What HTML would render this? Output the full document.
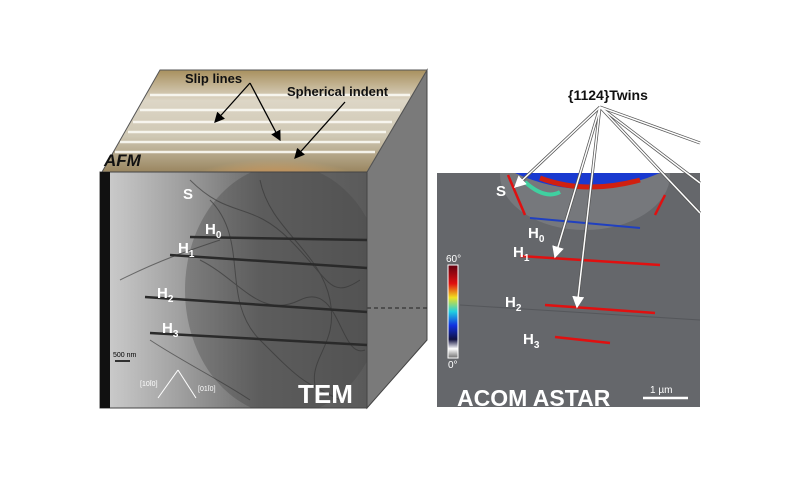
<!DOCTYPE html>
<html><head><meta charset="utf-8"><style>
html,body{margin:0;padding:0;background:#fff;}
svg{display:block;font-family:"Liberation Sans",sans-serif;}
</style></head><body>
<svg width="800" height="481" viewBox="0 0 800 481" xmlns="http://www.w3.org/2000/svg">
<defs>
<linearGradient id="top" x1="0" y1="0" x2="0" y2="1">
<stop offset="0" stop-color="#a8905e"/><stop offset="0.3" stop-color="#ddd6c6"/><stop offset="0.65" stop-color="#cfc8b4"/><stop offset="1" stop-color="#9a8660"/>
</linearGradient>
<radialGradient id="indent" cx="0.5" cy="1" r="0.7">
<stop offset="0" stop-color="#7a1408"/><stop offset="0.35" stop-color="#c4502a"/><stop offset="0.7" stop-color="#dc9a58" stop-opacity="0.6"/><stop offset="1" stop-color="#e0b070" stop-opacity="0"/>
</radialGradient>
<linearGradient id="tem" x1="0" y1="0" x2="1" y2="0">
<stop offset="0" stop-color="#cfcfcf"/><stop offset="0.3" stop-color="#a0a0a0"/><stop offset="0.6" stop-color="#6a6a6a"/><stop offset="1" stop-color="#5a5a5a"/>
</linearGradient>
<clipPath id="rp"><rect x="437" y="173" width="263" height="234"/></clipPath>
<clipPath id="fp"><rect x="100" y="172" width="267" height="236"/></clipPath>
<marker id="ah" markerWidth="8" markerHeight="8" refX="7" refY="4" orient="auto"><path d="M0,0 L8,4 L0,8 z" fill="#000"/></marker>
<marker id="aw" markerWidth="8" markerHeight="8" refX="7" refY="4" orient="auto"><path d="M0,0 L8,4 L0,8 z" fill="#fff"/></marker>
</defs>
<!-- side face -->
<polygon points="367,172 427,70 427,340 367,408" fill="#7a7a7a" stroke="#444"/>
<line x1="367" y1="308" x2="427" y2="308" stroke="#222" stroke-dasharray="4,3"/>
<!-- top face -->
<polygon points="102,172 160,70 427,70 367,172" fill="url(#top)"/>
<g stroke="#fbfaf4" stroke-width="2.5" opacity="0.9">
<line x1="150" y1="95" x2="410" y2="95"/><line x1="140" y1="110" x2="400" y2="110"/><line x1="133" y1="122" x2="392" y2="122"/><line x1="128" y1="132" x2="386" y2="132"/><line x1="120" y1="142" x2="380" y2="142"/><line x1="115" y1="152" x2="375" y2="152"/>
</g>
<ellipse cx="275" cy="172" rx="80" ry="32" fill="url(#indent)"/>
<polygon points="102,172 160,70 427,70 367,172" fill="none" stroke="#555"/>
<!-- front TEM -->
<rect x="100" y="172" width="267" height="236" fill="url(#tem)" stroke="#444"/>
<g clip-path="url(#fp)">
<ellipse cx="285" cy="290" rx="100" ry="125" fill="#444" opacity="0.35"/>
<g stroke="#333" stroke-width="1" fill="none" opacity="0.6">
<path d="M190,180 C230,220 250,200 290,240 S330,300 360,280"/>
<path d="M200,260 C240,280 260,320 300,300 S340,360 365,350"/>
<path d="M210,200 C250,240 220,300 260,340 S300,380 340,400"/>
<path d="M260,180 C270,230 320,250 330,300 S300,360 320,400"/>
<path d="M120,280 C160,260 190,250 220,240"/>
<path d="M150,340 C180,360 220,380 250,400"/>
</g>
</g>
<rect x="100" y="172" width="10" height="236" fill="#111"/>
<g stroke="#2a2a2a" stroke-width="2.5">
<line x1="190" y1="237" x2="367" y2="240"/><line x1="170" y1="255" x2="367" y2="268"/><line x1="145" y1="297" x2="367" y2="312"/><line x1="150" y1="333" x2="367" y2="345"/>
</g>
<g font-weight="bold" fill="#fff" font-size="15">
<text x="183" y="199">S</text>
<text x="205" y="234">H<tspan font-size="10" dy="4">0</tspan></text>
<text x="178" y="253">H<tspan font-size="10" dy="4">1</tspan></text>
<text x="157" y="298">H<tspan font-size="10" dy="4">2</tspan></text>
<text x="162" y="333">H<tspan font-size="10" dy="4">3</tspan></text>
<text x="298" y="403" font-size="26">TEM</text>
</g>
<text x="113" y="357" font-size="7" fill="#000">500 nm</text>
<line x1="115" y1="361" x2="130" y2="361" stroke="#000" stroke-width="1.5"/>
<g stroke="#fff" stroke-width="1"><line x1="178" y1="370" x2="158" y2="398"/><line x1="178" y1="370" x2="196" y2="398"/></g>
<text x="140" y="386" font-size="7" fill="#fff">[10Ī0]</text>
<text x="198" y="391" font-size="7" fill="#fff">[01Ī0]</text>
<text x="104" y="166" font-size="17" font-weight="bold" font-style="italic" fill="#111">AFM</text>
<g font-weight="bold" fill="#111" font-size="13">
<text x="185" y="83">Slip lines</text>
<text x="287" y="96">Spherical indent</text>
</g>
<g stroke="#000" stroke-width="1.3">
<line x1="250" y1="83" x2="215" y2="122" marker-end="url(#ah)"/>
<line x1="250" y1="83" x2="280" y2="140" marker-end="url(#ah)"/>
<line x1="345" y1="102" x2="295" y2="158" marker-end="url(#ah)"/>
</g>
<!-- right panel -->
<rect x="437" y="173" width="263" height="234" fill="#65676b"/>
<g clip-path="url(#rp)">
<ellipse cx="585" cy="175" rx="85" ry="55" fill="#76787c"/>
<path d="M515,173 Q585,205 660,173 z" fill="#1a3ad0"/>
<path d="M540,178 Q585,195 640,180" stroke="#d02010" stroke-width="5" fill="none"/>
<path d="M525,182 Q545,200 560,192" stroke="#40d0a0" stroke-width="4" fill="none"/>
<line x1="460" y1="305" x2="700" y2="320" stroke="#55575b" stroke-width="1"/>
</g>
<g stroke="#e01010" stroke-width="2.5">
<line x1="508" y1="175" x2="525" y2="215"/><line x1="520" y1="256" x2="660" y2="265"/>
<line x1="545" y1="305" x2="655" y2="313"/><line x1="555" y1="337" x2="610" y2="343"/>
<line x1="665" y1="195" x2="655" y2="215"/>
</g>
<line x1="530" y1="218" x2="640" y2="228" stroke="#2040c0" stroke-width="2"/>
<defs><linearGradient id="cb" x1="0" y1="0" x2="0" y2="1">
<stop offset="0" stop-color="#600010"/><stop offset="0.2" stop-color="#e01010"/><stop offset="0.35" stop-color="#f0e020"/><stop offset="0.5" stop-color="#20d0e0"/><stop offset="0.65" stop-color="#1030e0"/><stop offset="0.8" stop-color="#101040"/><stop offset="0.9" stop-color="#ffffff"/><stop offset="1" stop-color="#707070"/>
</linearGradient></defs>
<rect x="448" y="265" width="10" height="93" fill="url(#cb)" stroke="#fff"/>
<g fill="#fff" font-size="10"><text x="446" y="262">60°</text><text x="448" y="368">0°</text></g>
<g font-weight="bold" fill="#fff" font-size="15">
<text x="496" y="196">S</text>
<text x="528" y="238">H<tspan font-size="10" dy="4">0</tspan></text>
<text x="513" y="257">H<tspan font-size="10" dy="4">1</tspan></text>
<text x="505" y="307">H<tspan font-size="10" dy="4">2</tspan></text>
<text x="523" y="344">H<tspan font-size="10" dy="4">3</tspan></text>
</g>
<text x="457" y="406" font-size="23" font-weight="bold" fill="#fff">ACOM ASTAR</text>
<text x="650" y="393" font-size="10" fill="#fff">1 µm</text>
<line x1="643" y1="398" x2="688" y2="398" stroke="#fff" stroke-width="2.5"/>
<text x="568" y="100" font-size="14" font-weight="bold" fill="#111">{1124}Twins</text>
<g stroke="#555" stroke-width="3"><line x1="600" y1="107" x2="515" y2="187"/><line x1="600" y1="107" x2="555" y2="257"/><line x1="600" y1="107" x2="577" y2="307"/><line x1="600" y1="107" x2="700" y2="143"/><line x1="600" y1="107" x2="700" y2="183"/><line x1="600" y1="107" x2="700" y2="213"/></g>
<g stroke="#fff" stroke-width="1.5"><line x1="600" y1="107" x2="515" y2="187" marker-end="url(#aw)"/><line x1="600" y1="107" x2="555" y2="257" marker-end="url(#aw)"/><line x1="600" y1="107" x2="577" y2="307" marker-end="url(#aw)"/><line x1="600" y1="107" x2="700" y2="143"/><line x1="600" y1="107" x2="700" y2="183"/><line x1="600" y1="107" x2="700" y2="213"/></g>
</svg>
</body></html>
